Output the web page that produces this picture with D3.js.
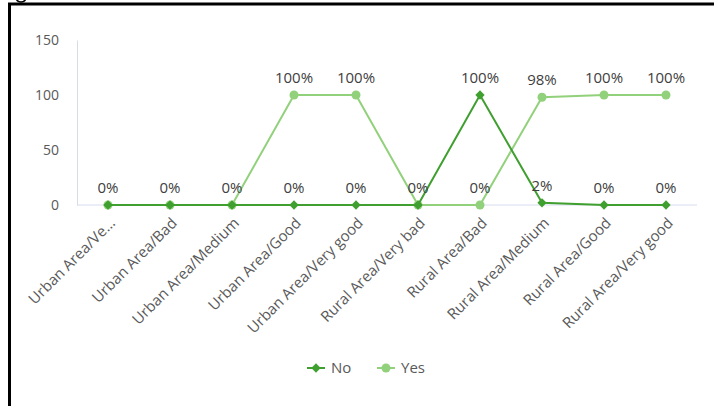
<!DOCTYPE html>
<html><head><meta charset="utf-8">
<script src="https://cdn.jsdelivr.net/npm/d3@7"></script>
<style>
html,body{margin:0;padding:0;background:#fff;}
svg{display:block;font-family:"Open Sans","Noto Sans",sans-serif;}
</style></head>
<body>
<svg id="chart" width="714" height="406"></svg>
<script>
const categories = ["Urban Area/Ve...","Urban Area/Bad","Urban Area/Medium","Urban Area/Good","Urban Area/Very good","Rural Area/Very bad","Rural Area/Bad","Rural Area/Medium","Rural Area/Good","Rural Area/Very good"];
const noValues = [0,0,0,0,0,0,100,2,0,0];
const yesValues = [0,0,0,100,100,0,0,98,100,100];
const yTicks = [0,50,100,150];
const seriesNames = ["No","Yes"];

const svg = d3.select("#chart");
const colNo = "#3f9f2f", colYes = "#92d17b";
const FONT = '"Open Sans","Noto Sans",sans-serif';

// frame (partial border) and a clipped glyph fragment above it
svg.append("rect").attr("x",0).attr("y",0).attr("width",714).attr("height",406).attr("fill","#fff");
svg.append("path").attr("d","M16,-2 Q17,2 21,2 Q25,2 26,-2").attr("fill","none").attr("stroke","#000").attr("stroke-width",1.6);
svg.append("line").attr("x1",8).attr("x2",714).attr("y1",4).attr("y2",4).attr("stroke","#000").attr("stroke-width",3);
svg.append("line").attr("x1",9.5).attr("x2",9.5).attr("y1",3).attr("y2",406).attr("stroke","#000").attr("stroke-width",3);

const x = d3.scaleBand().domain(categories).range([77,697]);
const y = d3.scaleLinear().domain([0,150]).range([205,40]);
const cx = c => x(c) + x.bandwidth()/2;

// y axis
const yAxis = svg.append("g").attr("transform","translate(77,0)")
  .call(d3.axisLeft(y).tickValues(yTicks).tickSize(0).tickPadding(18));
yAxis.select(".domain").attr("stroke","#d6dcec");
yAxis.selectAll("text").attr("fill","#595959").style("font-size","14px").style("font-family",FONT);

// x axis
const xAxis = svg.append("g").attr("transform","translate(0,205)")
  .call(d3.axisBottom(x).tickSize(0).tickPadding(0));
xAxis.select(".domain").attr("stroke","#d6dcec").attr("d","M77,0H697");
xAxis.selectAll("text")
  .attr("fill","#595959").style("font-size","15px").style("font-family",FONT)
  .attr("text-anchor","end").attr("dy",null).attr("y",0)
  .attr("transform","translate(8,19) rotate(-45)");

const line = d3.line().x((d,i)=>cx(categories[i])).y(d=>y(d));

// Yes series
svg.append("path").datum(yesValues).attr("d",line).attr("fill","none").attr("stroke",colYes).attr("stroke-width",2);
svg.append("g").selectAll("circle").data(yesValues).join("circle")
  .attr("cx",(d,i)=>cx(categories[i])).attr("cy",d=>y(d)).attr("r",4.5).attr("fill",colYes);

// No series
svg.append("path").datum(noValues).attr("d",line).attr("fill","none").attr("stroke",colNo).attr("stroke-width",2);
const diamond = d3.symbol().type(d3.symbolDiamond2).size(55);
svg.append("g").selectAll("path").data(noValues).join("path")
  .attr("d",diamond).attr("fill",colNo)
  .attr("transform",(d,i)=>`translate(${cx(categories[i])},${y(d)})`);

// data labels
const labelData = [];
noValues.forEach((v,i)=>labelData.push({i,v}));
yesValues.forEach((v,i)=>{ if (v!==noValues[i]) labelData.push({i,v}); });
svg.append("g").selectAll("text").data(labelData).join("text")
  .attr("x",d=>cx(categories[d.i])).attr("y",d=>y(d.v)-12)
  .attr("text-anchor","middle").attr("fill","#404040")
  .style("font-size","15px").text(d=>d.v+"%");

// legend
const legend = svg.append("g").attr("transform","translate(307,368)");
seriesNames.forEach((name,k)=>{
  const g = legend.append("g").attr("transform",`translate(${k*70},0)`);
  const c = k===0?colNo:colYes;
  g.append("line").attr("x1",0).attr("x2",18).attr("y1",0).attr("y2",0).attr("stroke",c).attr("stroke-width",2);
  if(k===0) g.append("path").attr("d",diamond).attr("fill",c).attr("transform","translate(9,0)");
  else g.append("circle").attr("cx",9).attr("cy",0).attr("r",4.5).attr("fill",c);
  g.append("text").attr("x",24).attr("y",5).attr("fill","#595959").style("font-size","15px").text(name);
});
</script>
</body></html>
